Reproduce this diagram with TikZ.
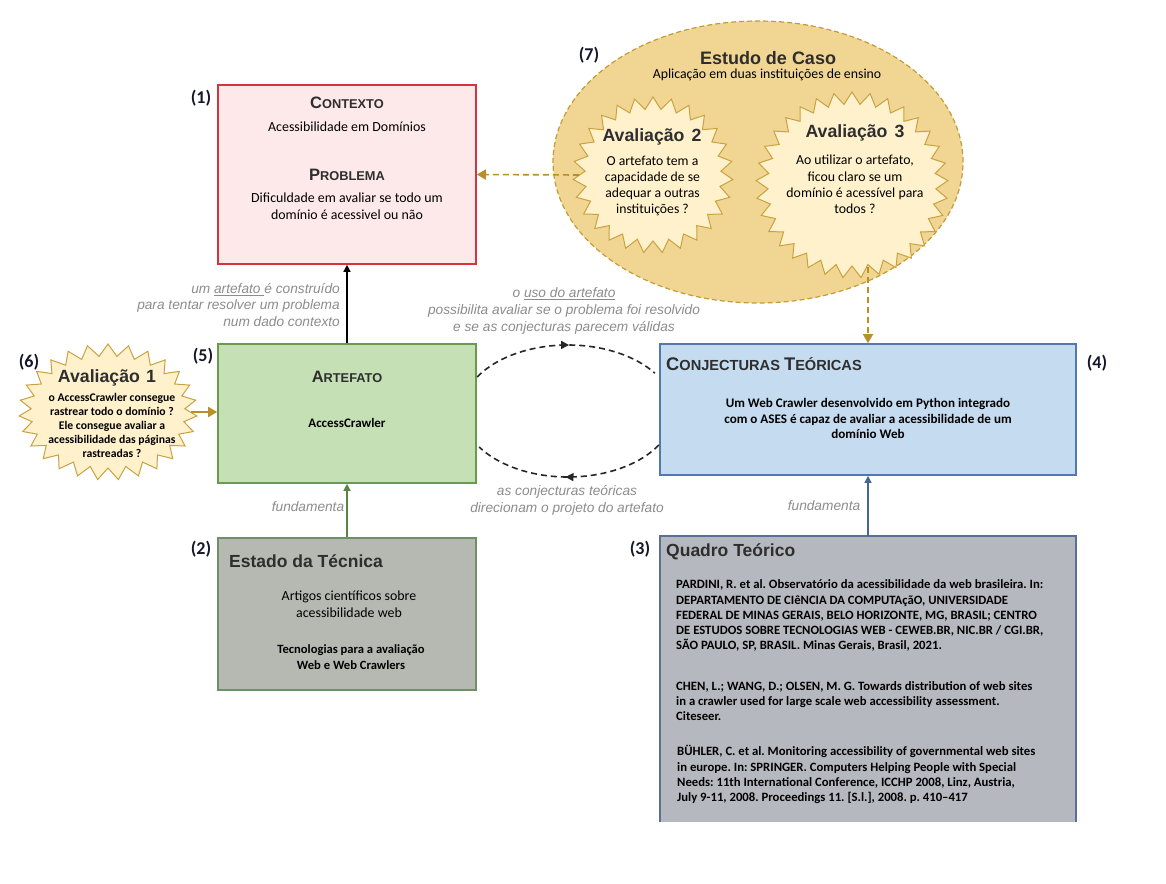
\documentclass[tikz,border=0pt]{standalone}
\usepackage{fontspec}
\setmainfont{Carlito}
\newfontfamily\arialf{Liberation Sans}
\usetikzlibrary{shapes.symbols,shapes.geometric,arrows.meta,decorations.markings,calc}
\frenchspacing

\definecolor{ctxfill}{HTML}{FDE8EA}
\definecolor{ctxline}{HTML}{D2353E}
\definecolor{artfill}{HTML}{C5E0B4}
\definecolor{artline}{HTML}{6A9B4A}
\definecolor{estfill}{HTML}{B5B9B2}
\definecolor{estline}{HTML}{6E9066}
\definecolor{conjfill}{HTML}{C5DBF0}
\definecolor{conjline}{HTML}{5378B0}
\definecolor{qtfill}{HTML}{B5B8BE}
\definecolor{qtline}{HTML}{5A6F96}
\definecolor{casefill}{HTML}{F1D592}
\definecolor{caseline}{HTML}{C49C36}
\definecolor{burstfill}{HTML}{FFF1CB}
\definecolor{burstline}{HTML}{C9A23F}
\definecolor{goldarrow}{HTML}{B8902A}
\definecolor{notegray}{HTML}{8C8C8C}
\definecolor{headgray}{HTML}{2E2E2E}
\definecolor{numcol}{HTML}{16162A}

% fake small capitals: big initial, smaller remaining capitals
\newcommand\bigsc[2]{{\fontsize{16.5}{18}\selectfont #1}{\fontsize{12.8}{14}\selectfont #2}}
\newcommand\midsc[2]{{\fontsize{18.3}{20}\selectfont #1}{\fontsize{14.6}{16}\selectfont #2}}

\tikzset{
  panel/.style={rectangle, line width=1.6pt, inner sep=0pt},
  burst/.style={starburst, random starburst=0, starburst point height=12pt,
    draw=burstline, fill=burstfill, line width=1pt, inner sep=0pt},
  numlabel/.style={font=\bfseries\fontsize{18}{20}\selectfont, text=numcol, inner sep=0pt},
  headsc/.style={font=\arialf\bfseries, text=headgray, inner sep=0pt},
  headbold/.style={font=\arialf\bfseries\fontsize{17.5}{20}\selectfont, text=headgray, inner sep=0pt},
  burstdhead/.style={font=\arialf\bfseries\fontsize{17.7}{20}\selectfont, text=headgray, inner sep=0pt},
  bodytext/.style={font=\fontsize{13.9}{16.5}\selectfont, align=center, inner sep=0pt},
  smallbold/.style={font=\bfseries\fontsize{12.6}{15.5}\selectfont, align=center, inner sep=0pt},
  reftext/.style={font=\bfseries\fontsize{12.7}{15.1}\selectfont, align=left, inner sep=0pt, anchor=west},
  note/.style={font=\arialf\itshape\fontsize{13.7}{16.8}\selectfont, text=notegray, inner sep=0pt},
  solidarrow/.style={line width=1.3pt, -{Triangle[length=7pt,width=7pt]}},
  goldlink/.style={draw=goldarrow, line width=1.6pt, dash pattern=on 6pt off 4pt,
    -{Triangle[length=9pt,width=10pt]}, color=goldarrow},
  cyclearc/.style={draw=black!85, line width=1.6pt, dash pattern=on 6pt off 4pt,
    postaction={decorate}},
}

\begin{document}
\begin{tikzpicture}[x=1pt,y=-1pt]
\useasboundingbox (0,0) rectangle (1166,883);

% ---------- case study ellipse with its two evaluations ----------
\node[ellipse, draw=caseline, fill=casefill, line width=1.2pt, dash pattern=on 5pt off 3pt,
      minimum width=410pt, minimum height=282pt, inner sep=0pt] (case) at (758,162) {};
\node[numlabel] (n7) at (589,55) {(7)};
\node[font=\arialf\bfseries\fontsize{18}{20}\selectfont, text=headgray, inner sep=0pt]
  (caseh) at (768,58) {Estudo de Caso};
\node[bodytext, font=\fontsize{13.8}{15}\selectfont] (caset) at (767,75)
  {Aplicação em duas instituições de ensino};

\node[burst, starburst points=27, minimum width=160pt, minimum height=156pt] (av2) at (653,175) {};
\node[burstdhead] (av2h) at (652,137) {Avaliação\hspace{0.4em}2};
\node[bodytext, font=\fontsize{13.7}{16}\selectfont] (av2t) at (652.5,186)
  {O artefato tem a\\capacidade de se\\adequar a outras\\instituições ?};

\node[burst, starburst points=33, minimum width=192pt, minimum height=186pt] (av3) at (852,185) {};
\node[burstdhead] (av3h) at (855,133) {Avaliação\hspace{0.4em}3};
\node[bodytext, font=\fontsize{13.8}{16.3}\selectfont] (av3t) at (855,184.5)
  {Ao utilizar o artefato,\\ficou claro se um\\domínio é acessível para\\todos ?};

% ---------- (1) context / problem ----------
\node[panel, draw=ctxline, fill=ctxfill, minimum width=258pt, minimum height=179pt] (ctx) at (347,174.5) {};
\node[numlabel] (n1) at (201,98) {(1)};
\node[headsc] (ctxh) at (347,103) {\bigsc{C}{ONTEXTO}};
\node[bodytext] (ctxt) at (347,127) {Acessibilidade em Domínios};
\node[headsc] (probh) at (347,175) {\bigsc{P}{ROBLEMA}};
\node[bodytext] (probt) at (347,206) {Dificuldade em avaliar se todo um\\domínio é acessivel ou não};

% ---------- (5) artefact ----------
\node[panel, draw=artline, fill=artfill, minimum width=258pt, minimum height=139pt] (art) at (347,413.5) {};
\node[numlabel] (n5) at (203,356) {(5)};
\node[headsc] (arth) at (347,377) {\bigsc{A}{RTEFATO}};
\node[smallbold, font=\bfseries\fontsize{13}{15}\selectfont] (artt) at (347,423) {AccessCrawler};

% ---------- (6) first evaluation ----------
\node[burst, starburst points=27, minimum width=178pt, minimum height=136pt] (av1) at (108,412) {};
\node[numlabel] (n6) at (29,362) {(6)};
\node[burstdhead] (av1h) at (107,378) {Avaliação\hspace{0.35em}1};
\node[smallbold, font=\bfseries\fontsize{11.7}{14}\selectfont] (av1t) at (112,425.5)
  {o AccessCrawler consegue\\rastrear todo o domínio ?\\Ele consegue avaliar a\\acessibilidade das páginas\\rastreadas ?};

% ---------- (2) state of the art ----------
\node[panel, draw=estline, fill=estfill, minimum width=258pt, minimum height=152pt] (est) at (347,614) {};
\node[numlabel] (n2) at (201,549) {(2)};
\node[headbold, anchor=west] (esth) at (229,561) {Estado da Técnica};
\node[bodytext] (estt) at (349,604) {Artigos científicos sobre\\acessibilidade web};
\node[smallbold] (estu) at (351,657) {Tecnologias para a avaliação\\Web e Web Crawlers};

% ---------- (4) theoretical conjectures ----------
\node[panel, draw=conjline, fill=conjfill, minimum width=416pt, minimum height=131pt] (conj) at (868,409.5) {};
\node[numlabel] (n4) at (1097,363) {(4)};
\node[headsc, anchor=west] (conjh) at (666,364) {\midsc{C}{ONJECTURAS }\midsc{T}{EÓRICAS}};
\node[smallbold, font=\bfseries\fontsize{13.1}{15.6}\selectfont] (conjt) at (868,418.5)
  {Um Web Crawler desenvolvido em Python integrado\\com o ASES é capaz de avaliar a acessibilidade de um\\domínio Web};

% ---------- (3) theoretical framework (open at the bottom) ----------
\node[rectangle, fill=qtfill, minimum width=416pt, minimum height=286pt, inner sep=0pt] (qt) at (868,679) {};
\draw[qtline, line width=1.6pt] (qt.south west) -- (qt.north west) -- (qt.north east) -- (qt.south east);
\node[numlabel] (n3) at (640,549) {(3)};
\node[headbold, anchor=west] (qth) at (666,552) {Quadro Teórico};
\node[reftext] (ref1) at (676,615.5)
  {PARDINI, R. et al. Observatório da acessibilidade da web brasileira. In:\\
   DEPARTAMENTO DE CIêNCIA DA COMPUTAçãO, UNIVERSIDADE\\
   FEDERAL DE MINAS GERAIS, BELO HORIZONTE, MG, BRASIL; CENTRO\\
   DE ESTUDOS SOBRE TECNOLOGIAS WEB - CEWEB.BR, NIC.BR / CGI.BR,\\
   SÃO PAULO, SP, BRASIL. Minas Gerais, Brasil, 2021.};
\node[reftext] (ref2) at (676,701)
  {CHEN, L.; WANG, D.; OLSEN, M. G. Towards distribution of web sites\\
   in a crawler used for large scale web accessibility assessment.\\
   Citeseer.};
\node[reftext] (ref3) at (677,774.5)
  {BÜHLER, C. et al. Monitoring accessibility of governmental web sites\\
   in europe. In: SPRINGER. Computers Helping People with Special\\
   Needs: 11th International Conference, ICCHP 2008, Linz, Austria,\\
   July 9-11, 2008. Proceedings 11. [S.l.], 2008. p. 410–417};

% ---------- solid connectors ----------
\draw[solidarrow, black] (art.north) -- (ctx.south);
\draw[solidarrow, draw=artline!85!black, color=artline!85!black] (est.north) -- (art.south);
\draw[solidarrow, draw=conjline!85!black, color=conjline!85!black] (qt.north) -- (conj.south);
\draw[line width=1.6pt, draw=goldarrow, -{Triangle[length=9pt,width=10pt]}, color=goldarrow]
  (av1.east) -- (art.west |- av1.east);

% ---------- dashed evaluation links ----------
\draw[goldlink] (av2.west) -- (ctx.east);
\draw[goldlink] (av3.south -| conj.north) -- (conj.north);

% ---------- design cycle between artefact and conjectures ----------
\coordinate (cyc) at (568,411);
\coordinate (cycA) at ($(cyc)+(211:106 and 66)$);
\coordinate (cycB) at ($(cyc)+(31:106 and 66)$);
\draw[cyclearc, decoration={markings, mark=at position 0.52 with {\arrow{Triangle[length=8pt,width=8pt]}}}]
  (cycA) arc[start angle=211, end angle=325, x radius=106, y radius=66];
\draw[cyclearc, decoration={markings, mark=at position 0.52 with {\arrow{Triangle[length=8pt,width=8pt]}}}]
  (cycB) arc[start angle=31, end angle=147, x radius=106, y radius=66];

% ---------- connector notes ----------
\node[note, align=right, anchor=east] (noteA) at (340,305)
  {um \underline{artefato }é construído\\para tentar resolver um problema\\num dado contexto};
\node[note, align=center] (noteB) at (564,311)
  {o \underline{uso do artefato}\\possibilita avaliar se o problema foi resolvido\\e se as conjecturas parecem válidas};
\node[note, align=center] (noteC) at (567,500.5)
  {as conjecturas teóricas\\direcionam o projeto do artefato};
\node[note] (noteD) at (308,507) {fundamenta};
\node[note] (noteE) at (824,506) {fundamenta};

\end{tikzpicture}
\end{document}
